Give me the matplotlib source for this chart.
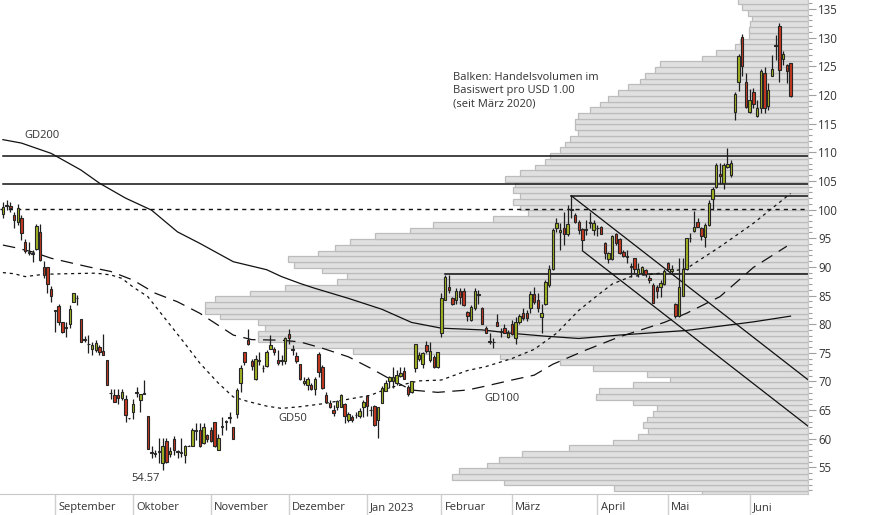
# candlestick chart with volume-by-price profile, moving averages and trend lines
import matplotlib
matplotlib.use('Agg')
import matplotlib.pyplot as plt
import numpy as np
import pandas as pd
from matplotlib.ticker import MultipleLocator

# --- data -----------------------------------------------------------------
holidays = ['2022-09-05', '2022-11-24', '2022-12-26', '2023-01-02',
            '2023-01-16', '2023-02-20', '2023-04-07', '2023-05-29']
days = pd.bdate_range('2022-08-12', '2023-06-16', freq='C', holidays=holidays)

opens = [
    99.2, 100.6, 100.6, 99.05, 97.8, 98.6, 94.4, 92.5, 92.2, 93.1,
    96.0, 90.0, 90.0, 86.1, 82.3, 83.2, 80.4, 79.3, 80.1, 83.8,
    84.5, 80.9, 77.3, 76.5, 75.7, 75.5, 76.0, 75.3, 73.7, 67.9,
    67.7, 67.7, 67.2, 67.0, 63.6, 64.6, 68.0, 66.7, 67.8, 64.0,
    57.6, 57.4, 57.7, 55.7, 59.66, 57.4, 59.95, 57.7, 57.6, 57.2,
    58.7, 58.7, 61.4, 61.5, 59.2, 60.6, 61.5, 62.9, 58.1, 62.1,
    63.0, 63.7, 62.1, 64.4, 69.7, 75.1, 77.3, 73.6, 70.4, 73.6,
    72.3, 72.7, 75.6, 75.6, 73.7, 73.6, 73.5, 78.3, 75.5, 74.4,
    73.0, 69.7, 69.4, 69.4, 68.6, 74.8, 72.6, 67.6, 66.3, 65.0,
    65.6, 65.5, 66.1, 63.2, 63.8, 64.1, 63.9, 65.6, 67.5, 65.0,
    65.7, 63.2, 66.3, 68.4, 70.1, 70.0, 69.8, 71.0, 71.9, 69.1,
    68.1, 72.3, 73.9, 73.05, 76.4, 73.7, 74.2, 72.5, 78.5, 84.3,
    86.4, 84.5, 84.3, 85.8, 85.8, 82.1, 80.8, 82.75, 85.1, 82.75,
    79.4, 76.9, 76.8, 80.4, 78.7, 79.4, 77.8, 80.0, 77.5, 80.4,
    81.9, 82.0, 82.75, 85.2, 84.3, 81.3, 83.6, 86.8, 89.7, 96.7,
    96.1, 96.7, 95.7, 100.0, 99.0, 97.8, 96.6, 96.5, 97.7, 96.4,
    96.7, 96.9, 94.1, 91.3, 91.3, 95.8, 94.8, 92.6, 91.8, 90.0,
    91.5, 88.7, 88.9, 89.4, 88.0, 86.8, 86.4, 86.4, 87.0, 90.7,
    89.3, 83.5, 81.4, 84.9, 89.7, 95.0, 96.3, 97.9, 96.7, 95.2,
    97.3, 101.8, 104.0, 106.2, 104.6, 107.4, 106.0, 117.1, 122.3, 130.1,
    122.3, 117.1, 120.6, 116.3, 117.8, 123.9, 118.1, 123.3, 128.6, 132.0,
    126.3, 125.2, 125.5]
highs = [
    101.4, 101.7, 101.4, 99.6, 100.9, 99.05, 94.9, 94.4, 92.9, 97.4,
    97.4, 91.0, 90.0, 86.7, 82.5, 83.5, 80.4, 80.4, 83.3, 85.5,
    85.1, 80.9, 78.0, 78.1, 76.9, 77.2, 76.4, 78.2, 73.7, 68.7,
    68.7, 68.7, 68.7, 67.6, 63.7, 66.9, 69.1, 67.8, 70.2, 64.0,
    58.7, 58.1, 60.1, 60.1, 60.1, 58.6, 60.4, 58.1, 60.2, 58.9,
    58.9, 61.8, 62.7, 62.7, 62.7, 60.9, 62.0, 62.9, 60.9, 63.8,
    63.3, 64.7, 62.1, 68.8, 72.9, 75.2, 79.1, 74.0, 74.6, 75.2,
    72.9, 75.5, 78.1, 76.1, 75.5, 74.6, 77.8, 79.1, 76.4, 75.2,
    73.0, 70.7, 70.7, 69.7, 70.8, 75.2, 72.9, 68.2, 66.8, 65.9,
    66.7, 67.8, 66.3, 64.7, 64.1, 64.7, 65.3, 66.8, 67.6, 65.7,
    65.9, 65.6, 69.2, 70.3, 70.9, 72.6, 72.0, 72.6, 72.6, 69.4,
    70.1, 76.6, 75.2, 75.2, 77.1, 76.9, 74.6, 75.2, 85.4, 88.6,
    88.6, 84.8, 86.3, 86.3, 86.3, 82.3, 83.3, 86.3, 86.0, 83.0,
    79.6, 78.4, 77.5, 81.8, 79.4, 80.1, 79.0, 80.8, 81.3, 81.8,
    82.8, 82.5, 85.7, 86.5, 85.4, 83.6, 87.7, 90.3, 96.7, 98.5,
    97.6, 99.6, 100.8, 102.3, 99.4, 98.2, 96.7, 98.2, 99.6, 98.2,
    97.3, 97.1, 94.4, 92.6, 95.6, 95.9, 95.0, 92.9, 92.9, 90.6,
    91.6, 90.6, 90.1, 89.6, 88.6, 87.1, 86.8, 87.7, 89.7, 90.9,
    90.3, 83.7, 91.5, 91.5, 95.0, 95.9, 99.8, 98.6, 97.0, 97.7,
    101.7, 103.9, 108.1, 108.1, 108.1, 110.7, 108.6, 120.6, 127.1, 130.6,
    123.8, 121.0, 121.2, 119.1, 124.6, 124.8, 122.0, 127.0, 130.5, 132.6,
    127.6, 125.4, 125.6]
lows = [
    98.6, 99.9, 99.6, 96.7, 97.3, 94.7, 92.4, 92.1, 90.9, 92.9,
    91.0, 88.0, 85.4, 83.8, 78.6, 79.8, 78.4, 77.7, 79.3, 83.8,
    83.3, 76.9, 76.9, 74.9, 74.7, 75.2, 74.6, 74.6, 69.3, 66.9,
    66.4, 66.0, 66.8, 62.9, 63.4, 63.4, 67.3, 64.6, 67.8, 58.3,
    56.7, 56.9, 55.7, 54.57, 55.7, 56.9, 57.2, 56.7, 56.9, 55.8,
    58.7, 58.7, 59.8, 58.6, 59.1, 59.5, 59.5, 58.6, 58.0, 60.7,
    61.5, 62.7, 59.9, 63.6, 68.2, 72.9, 76.4, 72.0, 70.2, 72.9,
    71.7, 72.6, 75.6, 74.6, 72.9, 72.9, 73.0, 76.6, 74.6, 73.3,
    70.3, 69.4, 68.5, 68.5, 67.6, 70.7, 68.6, 66.3, 65.3, 63.9,
    65.0, 65.5, 62.7, 63.0, 63.0, 63.6, 63.6, 63.8, 63.9, 63.9,
    62.3, 60.1, 66.2, 68.4, 68.8, 68.8, 69.4, 70.8, 70.5, 67.5,
    67.9, 71.7, 73.5, 72.3, 75.0, 73.4, 72.3, 72.3, 77.8, 84.2,
    85.4, 83.3, 83.6, 83.6, 83.1, 80.6, 80.6, 82.5, 83.6, 80.0,
    78.4, 76.6, 75.9, 79.6, 77.8, 78.4, 77.5, 78.1, 76.6, 80.1,
    80.8, 80.6, 81.9, 83.6, 82.2, 78.5, 83.3, 86.4, 89.4, 96.1,
    92.9, 93.8, 95.3, 98.5, 97.6, 95.8, 92.9, 95.6, 96.7, 95.6,
    95.3, 95.7, 91.3, 90.7, 91.2, 93.8, 92.2, 91.7, 90.6, 88.3,
    88.9, 88.2, 88.6, 88.2, 87.1, 83.7, 84.5, 84.8, 86.8, 89.5,
    88.9, 81.0, 81.3, 84.9, 89.4, 94.4, 96.1, 96.9, 94.7, 93.5,
    97.1, 99.9, 103.7, 104.5, 103.5, 107.2, 105.7, 115.6, 120.7, 123.3,
    117.7, 116.8, 117.7, 116.2, 116.9, 116.9, 117.4, 123.3, 126.1, 122.3,
    125.2, 122.1, 119.7]
closes = [
    100.5, 100.8, 100.2, 98.2, 100.2, 95.9, 92.8, 92.6, 92.5, 97.2,
    91.2, 88.5, 87.0, 84.9, 82.4, 80.3, 78.7, 79.5, 82.6, 85.4,
    84.6, 76.9, 77.4, 76.6, 76.4, 76.7, 75.2, 74.6, 69.4, 68.0,
    66.4, 67.2, 68.2, 64.1, 63.7, 66.0, 68.1, 67.8, 67.9, 58.3,
    57.7, 57.5, 57.8, 58.8, 56.0, 57.8, 58.0, 57.8, 57.7, 58.7,
    58.8, 61.5, 61.5, 58.7, 62.0, 59.95, 59.6, 58.7, 60.2, 62.2,
    63.1, 63.8, 60.0, 68.5, 72.3, 73.4, 76.5, 72.7, 73.9, 73.7,
    72.4, 75.2, 76.4, 75.2, 73.2, 73.7, 77.5, 77.5, 75.6, 73.6,
    70.4, 70.1, 70.5, 68.7, 70.5, 71.7, 68.8, 66.5, 65.5, 64.5,
    66.6, 67.6, 63.9, 64.4, 63.3, 64.2, 64.8, 66.4, 65.7, 65.1,
    62.4, 65.6, 68.8, 69.7, 70.7, 70.7, 71.1, 71.4, 70.5, 67.8,
    70.0, 76.5, 74.6, 74.9, 75.3, 75.4, 72.5, 75.2, 84.5, 88.2,
    86.0, 83.6, 85.8, 84.7, 83.3, 81.4, 83.0, 85.8, 85.2, 80.1,
    78.5, 77.0, 76.9, 79.7, 78.8, 78.5, 78.4, 78.3, 80.3, 81.4,
    81.0, 81.0, 85.3, 83.9, 82.75, 81.9, 87.3, 89.6, 96.4, 97.6,
    96.5, 95.8, 97.5, 100.1, 97.9, 96.5, 94.7, 96.6, 97.8, 97.7,
    96.8, 95.8, 92.5, 92.4, 95.3, 94.1, 92.4, 91.9, 91.9, 90.1,
    89.7, 89.7, 89.9, 88.7, 87.7, 83.7, 85.8, 87.2, 89.2, 89.7,
    89.7, 81.4, 86.4, 89.7, 95.0, 95.1, 96.9, 97.0, 95.3, 97.3,
    101.2, 103.5, 107.8, 105.9, 107.8, 107.95, 108.1, 120.2, 126.8, 125.1,
    117.9, 119.2, 118.5, 117.7, 124.1, 117.8, 120.9, 124.6, 128.8, 124.4,
    127.1, 124.1, 119.8]

# moving averages, read at sample days (trading-day index, price)
gd200_day = [0, 5, 13, 21, 26, 33, 40, 47, 53, 62, 71, 75, 80, 84, 93, 102, 110,
             118, 129, 137, 146, 155, 166, 184, 202, 212]
gd200_val = [112.2, 111.6, 109.8, 106.9, 104.6, 102.0, 99.9, 96.1, 94.1, 90.9, 89.5,
             88.3, 87.1, 86.25, 84.5, 82.6, 80.3, 79.3, 79.0, 78.4, 77.9, 77.5, 78.1,
             78.9, 80.4, 81.4]
gd100_day = [0, 3, 8, 13, 17, 23, 29, 35, 41, 47, 53, 62, 67, 75, 80, 86, 93, 99,
             104, 110, 117, 125, 130, 137, 143, 148, 157, 166, 178, 184, 193, 202, 211]
gd100_val = [93.8, 93.4, 92.6, 91.5, 90.9, 90.0, 89.2, 87.7, 85.4, 83.9, 81.9, 78.1,
             77.3, 77.2, 76.9, 75.8, 74.3, 72.3, 70.5, 68.5, 68.1, 68.5, 69.2, 70.25,
             71.1, 73.0, 75.5, 77.8, 80.3, 81.9, 84.8, 89.9, 93.6]
gd50_day = [0, 3, 6, 11, 17, 25, 29, 32, 35, 39, 44, 49, 53, 58, 62, 66, 71, 75, 80,
            86, 93, 99, 104, 112, 118, 125, 130, 137, 143, 149, 155, 160, 164, 169,
            177, 184, 193, 202, 212]
gd50_val = [89.0, 88.8, 88.3, 88.7, 88.8, 88.9, 88.6, 88.0, 86.5, 84.8, 80.7, 76.6,
            73.2, 69.7, 67.3, 66.5, 65.7, 65.3, 65.6, 66.1, 66.9, 67.6, 68.9, 70.1,
            70.25, 71.9, 72.6, 74.0, 75.6, 78.4, 82.4, 85.0, 87.0, 88.3, 88.9, 89.7,
            93.5, 97.6, 102.8]

# volume by price level (level k covers k-0.15 .. k+0.85)
vol_levels = list(range(50, 137))
vol = [106, 194, 304, 356, 349, 321, 309, 286, 239, 195,
       170, 160, 165, 161, 155, 151, 175, 212, 209, 175,
       138, 161, 215, 248, 308, 455, 523, 550, 550, 543,
       550, 588, 603, 603, 593, 558, 523, 471, 461, 486,
       514, 520, 490, 473, 458, 433, 398, 375, 315, 280,
       288, 295, 288, 295, 293, 303, 288, 273, 263, 258,
       248, 243, 238, 230, 233, 233, 230, 218, 208, 200,
       190, 180, 168, 163, 153, 148, 106, 92, 73, 68,
       59, 59, 58, 56, 60, 66, 70]

# horizontal levels: (price, first day)
hlevels = [(109.35, 0), (104.45, 0), (102.4, 153), (88.7, 119)]
dotted_level = 100.05
# trend channel: start day, start price, slope per day
channel = [(153, 102.4), (156, 92.8)]
channel_slope = -0.504

month_names = {9: 'September', 10: 'Oktober', 11: 'November', 12: 'Dezember',
               1: 'Jan 2023', 2: 'Februar', 3: 'März', 4: 'April', 5: 'Mai', 6: 'Juni'}

# --- plot -----------------------------------------------------------------
plt.rcParams['font.family'] = ['Open Sans', 'DejaVu Sans']
fig = plt.figure(figsize=(8.74, 5.15), dpi=100)
ax = fig.add_axes([0, 21 / 515, 808 / 874, 494 / 515])
axv = ax.twiny()

x_left, x_right = -0.78, 216.7
y_low, y_high = 50.36, 136.57

axv.barh(np.array(vol_levels) - 0.15, vol, height=1, align='edge',
         color='#e0e0e0', edgecolor='#bcbcbc', linewidth=0.9)
axv.set_xlim(808, 0)
axv.axis('off')
ax.set_zorder(axv.get_zorder() + 1)
ax.patch.set_visible(False)

o = np.array(opens); h = np.array(highs); l = np.array(lows); c = np.array(closes)
x = np.arange(len(c))
colors = np.where(c >= o, '#a2b321', '#c4391f')
ax.vlines(x, l, h, color='#1e1e1e', lw=0.9, zorder=3)
ax.bar(x, c - o, bottom=o, width=0.66, color=colors, edgecolor='#262626',
       linewidth=0.8, zorder=4)

ax.plot(gd200_day, gd200_val, color='#111111', lw=0.9, zorder=2)
ax.plot(gd100_day, gd100_val, color='#111111', lw=0.9, ls=(0, (10, 6)), zorder=2)
ax.plot(gd50_day, gd50_val, color='#111111', lw=0.9, ls=(0, (2.5, 3)), zorder=2)

for price, start in hlevels:
    ax.plot([max(start, x_left), x_right], [price, price], color='#111111', lw=1.1, zorder=2)
ax.plot([x_left, x_right], [dotted_level, dotted_level], color='#111111', lw=1,
        ls=(0, (3, 3)), zorder=2)
for start, price in channel:
    ax.plot([start, x_right], [price, price + channel_slope * (x_right - start)],
            color='#111111', lw=0.9, zorder=2)

ax.set_xlim(x_left, x_right)
ax.set_ylim(y_low, y_high)

# y axis on the right
ax.yaxis.tick_right()
ax.yaxis.set_major_locator(MultipleLocator(5))
ax.yaxis.set_minor_locator(MultipleLocator(1))
ax.tick_params(axis='y', which='major', length=5.5, width=0.8, color='#a0a0a0',
               labelsize=8.3, labelcolor='#333333', pad=2)
ax.tick_params(axis='y', which='minor', length=3, width=0.8, color='#a0a0a0')

# month separators
month_pos = [i for i in range(1, len(days)) if days[i].month != days[i - 1].month]
ax.set_xticks(month_pos)
ax.set_xticklabels([])
ax.tick_params(axis='x', which='major', length=16, width=1, color='#cfcfcf')
for i in month_pos:
    ax.text(i + 0.9, -0.027, month_names[days[i].month], transform=ax.get_xaxis_transform(),
            ha='left', va='center', fontsize=8, color='#333333')

for s in ['top', 'left']:
    ax.spines[s].set_visible(False)
for s in ['right', 'bottom']:
    ax.spines[s].set_color('#c8c8c8')

# labels
ax.text(5.9, 113.0, 'GD200', fontsize=8, color='#333333', va='center', ha='left')
ax.text(74.1, 63.6, 'GD50', fontsize=8, color='#333333', va='center', ha='left')
ax.text(129.5, 67.1, 'GD100', fontsize=8, color='#333333', va='center', ha='left')
ax.text(38.3, 53.15, '54.57', fontsize=8, color='#333333', va='center', ha='center')
fig.text(453 / 874, 1 - 72 / 515, 'Balken: Handelsvolumen im\nBasiswert pro USD 1.00\n(seit März 2020)',
         fontsize=8, color='#333333', va='top', ha='left', linespacing=1.25)

fig.savefig('out.png', dpi=100)
